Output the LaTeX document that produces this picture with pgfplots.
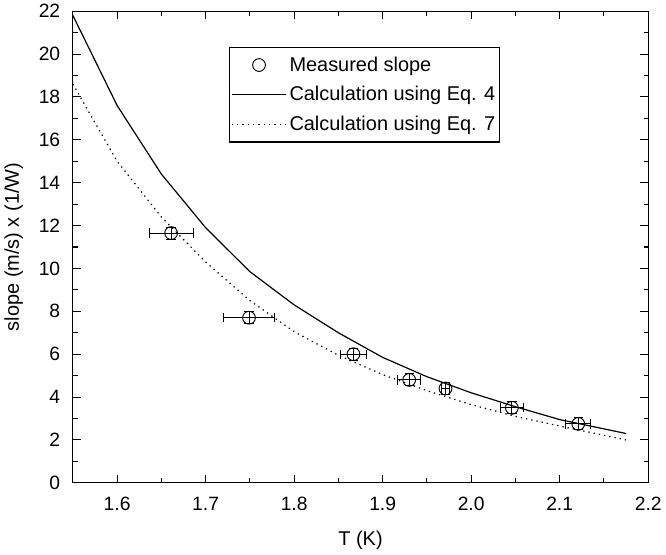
\documentclass[border=0pt]{standalone}
\usepackage{pgfplots}
\pgfplotsset{compat=1.18}
\usepackage{fontspec}
\setmainfont{Liberation Sans}

\begin{document}
\begin{tikzpicture}
\begin{axis}[
  scale only axis,
  width=433pt, height=355pt,
  xmin=1.55, xmax=2.2,
  ymin=0, ymax=22,
  xtick={1.6,1.7,...,2.21},
  minor x tick num=1,
  ytick={0,2,...,22},
  minor y tick num=1,
  tick align=inside,
  major tick length=6pt,
  minor tick length=3.5pt,
  tick style={black, line width=0.8pt},
  axis line style={line width=0.9pt},
  /pgf/number format/assume math mode=true,
  ticklabel style={font=\fontsize{14.5}{16}\selectfont},
  xticklabel style={yshift=-7pt, /pgf/number format/fixed,
    /pgf/number format/fixed zerofill, /pgf/number format/precision=1},
  yticklabel style={xshift=-6pt},
  label style={font=\fontsize{15}{17}\selectfont},
  xlabel={T (K)},
  ylabel={slope (m/s) x (1/W)},
  xlabel style={yshift=-9pt},
  ylabel style={yshift=5pt},
  legend style={at={(0.272,0.924)}, anchor=north west, draw=black,
    line width=0.8pt, font=\fontsize{15}{17}\selectfont,
    inner xsep=1pt, inner ysep=5pt, row sep=6pt, cells={anchor=west}},
  legend image code/.code={\draw[mark repeat=2,mark phase=2,#1]
    plot coordinates {(0cm,0cm) (0.72cm,0cm) (1.44cm,0cm)};},
]
\addplot[only marks, mark=o, mark size=4.8pt, black, line width=0.7pt,
  error bars/.cd, x dir=both, x explicit, y dir=both, y explicit,
  error bar style={line width=0.7pt},
  error mark options={rotate=90, mark size=3.5pt, line width=0.7pt}]
  coordinates {
  (1.661,11.65) +- (0.025,0.28)
  (1.749,7.7) +- (0.029,0.28)
  (1.867,6.0) +- (0.015,0.28)
  (1.930,4.8) +- (0.013,0.28)
  (1.971,4.4) +- (0.005,0.28)
  (2.046,3.5) +- (0.013,0.28)
  (2.121,2.75) +- (0.014,0.28)
  };
\addlegendentry{Measured slope}
\addplot[black, line width=0.9pt] coordinates {
  (1.55,21.8) (1.60,17.6) (1.65,14.4) (1.70,11.9) (1.75,9.85)
  (1.80,8.3) (1.85,7.0) (1.90,5.85) (1.95,4.95) (2.00,4.2)
  (2.05,3.55) (2.10,2.95) (2.175,2.3)
};
\addlegendentry{Calculation using Eq. 4}
\addplot[black, line width=0.9pt, dash pattern=on 1pt off 3pt] coordinates {
  (1.55,18.6) (1.60,15.0) (1.65,12.4) (1.70,10.3) (1.75,8.5)
  (1.80,7.05) (1.85,5.95) (1.90,5.05) (1.95,4.3) (2.00,3.65)
  (2.05,3.1) (2.10,2.65) (2.175,2.0)
};
\addlegendentry{Calculation using Eq. 7}
\end{axis}
\end{tikzpicture}
\end{document}
